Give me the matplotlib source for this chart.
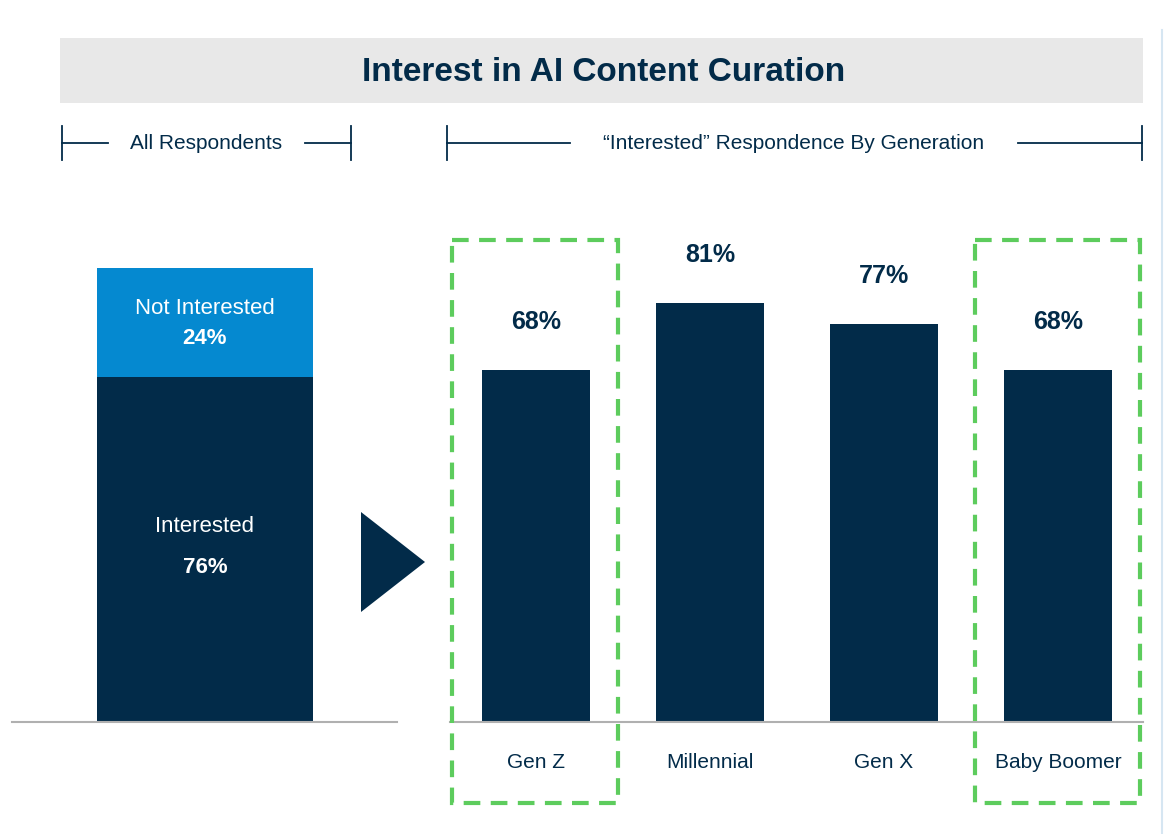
import matplotlib.pyplot as plt
from matplotlib.patches import Rectangle, Polygon

plt.rcParams['font.family'] = ['Liberation Sans', 'DejaVu Sans']

W, H = 1172, 834
navy = '#022b49'
blue = '#0589d0'
green = '#5dcc5d'
grey_line = '#b0b0b0'

all_labels = ['Interested', 'Not Interested']
all_values = [76, 24]
generations = ['Gen Z', 'Millennial', 'Gen X', 'Baby Boomer']
gen_values = [68, 81, 77, 68]


def px_axes(fig, x0, y0, x1, y1):
    # pixel box (top-left origin) -> figure axes
    return fig.add_axes([x0 / W, 1 - y1 / H, (x1 - x0) / W, (y1 - y0) / H])


fig = plt.figure(figsize=(W / 100, H / 100), dpi=100)

# left stacked bar
axl = px_axes(fig, 12, 268, 397, 722)
axl.bar([0.501], [all_values[0]], width=0.561, color=navy)
axl.bar([0.501], [all_values[1]], width=0.561, bottom=[all_values[0]], color=blue)
axl.set_xlim(0, 1)
axl.set_ylim(0, 100)
axl.axis('off')
axl.axhline(0, color=grey_line, lw=1.5, clip_on=False)
axl.text(0.501, all_values[0] / 2, f'{all_labels[0]}\n{all_values[0]}%', ha='center', va='center',
         color='white', fontsize=16, linespacing=1.25)
axl.text(0.501, all_values[0] + all_values[1] / 2 + 1, f'{all_labels[1]}\n{all_values[1]}%', ha='center',
         va='center', color='white', fontsize=16, linespacing=1.25)
# bold the percentages by overlaying
for t in list(axl.texts):
    pass

# right bars
axr = px_axes(fig, 450, 205, 1143, 722)
xs = range(len(generations))
axr.bar(xs, gen_values, width=0.62, color=navy)
axr.set_xlim(-0.494, 3.489)
axr.set_ylim(0, 100)
axr.axis('off')
axr.axhline(0, color=grey_line, lw=1.5, clip_on=False)
for i, v in enumerate(gen_values):
    axr.text(i, v + 9.3, f'{v}%', ha='center', va='center', color=navy, fontsize=18, fontweight='bold')
    axr.text(i, -7.8, generations[i], ha='center', va='center', color=navy, fontsize=15)

# overlay in pixel coords
ov = fig.add_axes([0, 0, 1, 1], zorder=5)
ov.set_xlim(0, W)
ov.set_ylim(H, 0)
ov.axis('off')
ov.patch.set_alpha(0)

ov.add_patch(Rectangle((60, 38), 1083, 65, color='#e8e8e8', lw=0))
ov.text(604, 72, 'Interest in AI Content Curation', ha='center', va='center', color=navy,
        fontsize=24, fontweight='bold')

# brackets
def bracket(x0, x1, l_end, r_start, label, cx):
    ov.plot([x0, x0], [126, 160], color=navy, lw=1.3)
    ov.plot([x1, x1], [126, 160], color=navy, lw=1.3)
    ov.plot([x0, l_end], [143, 143], color=navy, lw=1.3)
    ov.plot([r_start, x1], [143, 143], color=navy, lw=1.3)
    ov.text(cx, 143, label, ha='center', va='center', color=navy, fontsize=15)

bracket(62, 351, 108, 305, 'All Respondents', 206)
bracket(447, 1142, 570, 1018, '\u201cInterested\u201d Respondence By Generation', 794)

ov.add_patch(Polygon([(361, 512), (361, 612), (425, 562)], closed=True, color=navy, lw=0))

for x0, x1 in [(452, 618), (975, 1140)]:
    ov.add_patch(Rectangle((x0, 240), x1 - x0, 563, fill=False, ec=green, lw=3, ls=(0, (4, 2.5))))

ov.plot([1162, 1162], [30, 834], color='#d6e6f2', lw=1.5)

# redraw stacked bar labels with bold percentages
axl.texts[0].remove()
axl.texts[0].remove()
axl.text(0.501, 43, all_labels[0], ha='center', va='center', color='white', fontsize=16)
axl.text(0.501, 34, f'{all_values[0]}%', ha='center', va='center', color='white', fontsize=16, fontweight='bold')
axl.text(0.501, 91, all_labels[1], ha='center', va='center', color='white', fontsize=16)
axl.text(0.501, 84.5, f'{all_values[1]}%', ha='center', va='center', color='white', fontsize=16, fontweight='bold')

fig.savefig('out.png', dpi=100)
